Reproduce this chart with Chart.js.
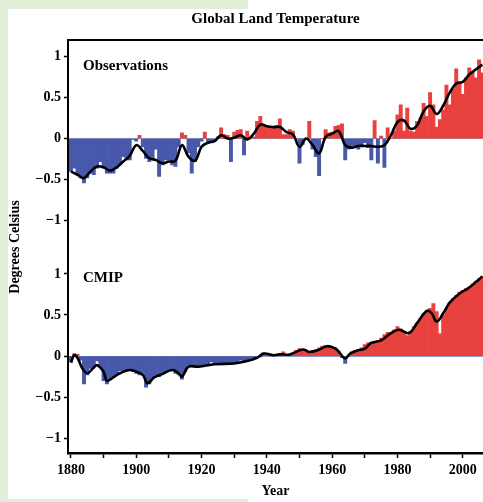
<!DOCTYPE html>
<html>
<head>
<meta charset="utf-8">
<script src="https://cdn.jsdelivr.net/npm/chart.js@4.4.1/dist/chart.umd.min.js"></script>
<style>
  body { margin: 0; background: #fff; }
  #wrap { position: relative; width: 483px; height: 502px; overflow: hidden; background: #fff; }
  .frame { position: absolute; background: #e2efd8; }
  .lbl { position: absolute; font-family: 'Liberation Serif', serif; font-weight: bold; color: #000; line-height: 1; white-space: nowrap; }
  canvas { position: absolute; left: 0; top: 0; }
</style>
</head>
<body>
<div id="wrap">
  <div class="frame" style="left:0;top:0;width:8px;height:502px"></div>
  <div class="frame" style="left:0;top:0;width:248px;height:9px"></div>
  <div class="frame" style="left:0;top:499px;width:248px;height:3px"></div>
  <canvas id="chart" width="483" height="502"></canvas>
  <div class="lbl" style="left:83px;top:58px;font-size:15px">Observations</div>
  <div class="lbl" style="left:83px;top:270px;font-size:15px">CMIP</div>
  <div class="lbl" style="left:-45px;top:240px;width:120px;text-align:center;font-size:14px;transform:rotate(-90deg)">Degrees Celsius</div>
</div>
<script>
// years on the x axis, one bar per year
const years = Array.from({ length: 127 }, (_, i) => 1880 + i);

// annual anomalies, observations (1880-2006)
const obsValues = [
  -0.40, -0.36, -0.44, -0.48, -0.54, -0.48, -0.42, -0.44, -0.36, -0.28,
  -0.36, -0.42, -0.42, -0.42, -0.36, -0.32, -0.22, -0.26, -0.26, -0.01,
  -0.03, 0.04, -0.10, -0.24, -0.28, -0.24, -0.13, -0.46, -0.32, -0.26,
  -0.26, -0.32, -0.34, -0.10, 0.07, 0.04, -0.17, -0.42, -0.28, -0.10,
  -0.03, 0.08, -0.06, -0.05, -0.03, 0.02, 0.13, 0.05, 0.04, -0.28,
  0.08, 0.10, 0.11, -0.20, 0.09, 0.00, 0.02, 0.21, 0.27, 0.17,
  0.14, 0.15, 0.15, 0.16, 0.24, 0.05, 0.05, 0.11, 0.09, 0.00,
  -0.30, -0.07, 0.00, 0.21, -0.13, -0.22, -0.45, 0.00, 0.11, 0.07,
  0.08, 0.15, 0.16, 0.18, -0.26, -0.13, -0.09, -0.09, -0.13, -0.09,
  -0.05, -0.11, -0.26, 0.22, -0.30, 0.03, -0.35, 0.13, 0.00, 0.09,
  0.29, 0.41, 0.09, 0.37, 0.09, 0.08, 0.21, 0.25, 0.43, 0.27,
  0.56, 0.41, 0.14, 0.23, 0.35, 0.65, 0.41, 0.60, 0.85, 0.68,
  0.54, 0.74, 0.86, 0.81, 0.74, 0.96, 0.80
];

// annual anomalies, CMIP ensemble (1880-2006)
const cmipValues = [
  -0.07, 0.03, 0.02, -0.05, -0.34, -0.23, -0.15, -0.13, -0.06, -0.13,
  -0.30, -0.34, -0.28, -0.26, -0.23, -0.18, -0.19, -0.17, -0.17, -0.19,
  -0.21, -0.23, -0.21, -0.38, -0.34, -0.26, -0.23, -0.25, -0.21, -0.19,
  -0.17, -0.17, -0.21, -0.23, -0.28, -0.19, -0.11, -0.13, -0.13, -0.12,
  -0.12, -0.11, -0.11, -0.07, -0.10, -0.10, -0.09, -0.09, -0.09, -0.08,
  -0.08, -0.07, -0.05, -0.06, -0.05, -0.03, -0.02, -0.01, -0.01, 0.04,
  0.03, 0.02, 0.01, 0.02, 0.03, 0.05, 0.02, 0.02, 0.04, 0.07,
  0.09, 0.07, 0.05, 0.05, 0.07, 0.08, 0.10, 0.12, 0.13, 0.12,
  0.10, 0.10, 0.06, -0.02, -0.09, 0.00, 0.05, 0.07, 0.08, 0.10,
  0.14, 0.16, 0.17, 0.18, 0.19, 0.22, 0.26, 0.29, 0.28, 0.32,
  0.36, 0.33, 0.30, 0.25, 0.30, 0.36, 0.40, 0.45, 0.52, 0.55,
  0.58, 0.64, 0.54, 0.27, 0.50, 0.58, 0.65, 0.70, 0.74, 0.78,
  0.80, 0.82, 0.84, 0.88, 0.91, 0.94, 0.97
];

// smoothed curves
const obsLineYears = [1880, 1882, 1884, 1886, 1888, 1890, 1892, 1894, 1896, 1898,
  1900, 1902, 1904, 1906, 1908, 1910, 1912, 1914, 1916, 1918,
  1920, 1922, 1924, 1926, 1928, 1930, 1932, 1934, 1936, 1938,
  1940, 1942, 1944, 1946, 1948, 1950, 1952, 1954, 1956, 1958,
  1960, 1962, 1964, 1966, 1968, 1970, 1972, 1974, 1976, 1978,
  1980, 1982, 1984, 1986, 1988, 1990, 1992, 1994, 1996, 1998,
  2000, 2002, 2004, 2006];
const obsLineValues = [-0.40, -0.44, -0.48, -0.40, -0.34, -0.35, -0.39, -0.35, -0.28, -0.21,
  -0.08, -0.15, -0.24, -0.26, -0.30, -0.28, -0.27, -0.08, -0.22, -0.27,
  -0.10, -0.05, -0.03, 0.04, 0.00, 0.01, 0.04, -0.01, 0.06, 0.17,
  0.15, 0.14, 0.14, 0.08, 0.05, -0.10, 0.00, -0.08, -0.18, 0.02,
  0.06, 0.09, -0.08, -0.11, -0.09, -0.09, -0.09, -0.10, -0.08, 0.04,
  0.20, 0.22, 0.12, 0.16, 0.33, 0.40, 0.30, 0.40, 0.56, 0.67,
  0.69, 0.78, 0.84, 0.90];

const cmipLineYears = [1880, 1881, 1882, 1883.5, 1885, 1887, 1888, 1890, 1891, 1893,
  1895, 1898, 1900, 1902, 1903.5, 1905.5, 1908, 1911, 1913, 1914,
  1916, 1919, 1924, 1930, 1934, 1937, 1939, 1942, 1944, 1947,
  1951, 1953, 1955.5, 1958.5, 1961, 1962.5, 1964, 1965.5, 1968, 1970,
  1972, 1975, 1978, 1980.5, 1983.5, 1986, 1989, 1990.5, 1992, 1994,
  1996, 1999, 2001.5, 2004, 2006];
const cmipLineValues = [-0.08, 0.01, -0.02, -0.15, -0.21, -0.14, -0.11, -0.19, -0.30, -0.26,
  -0.21, -0.17, -0.19, -0.23, -0.33, -0.26, -0.22, -0.17, -0.21, -0.25,
  -0.13, -0.13, -0.10, -0.09, -0.06, -0.02, 0.03, 0.01, 0.02, 0.02,
  0.08, 0.05, 0.07, 0.12, 0.09, 0.03, -0.03, 0.03, 0.07, 0.09,
  0.16, 0.19, 0.28, 0.32, 0.28, 0.40, 0.55, 0.52, 0.42, 0.52,
  0.65, 0.76, 0.82, 0.90, 0.97];

const yTicks = [-1, -0.5, 0, 0.5, 1];
const xTicks = [1880, 1890, 1900, 1910, 1920, 1930, 1940, 1950, 1960, 1970, 1980, 1990, 2000];

const RED = '#e8413e';
const BLUE = '#4858aa';
const FONT = 'Liberation Serif';

function barColor(ctx) {
  return ctx.parsed && ctx.parsed.y < 0 ? BLUE : RED;
}

function yAxis(min, max) {
  return {
    type: 'linear',
    position: 'left',
    stack: 'panels',
    stackWeight: max - min,
    min: min,
    max: max,
    afterBuildTicks: s => { s.ticks = yTicks.map(v => ({ value: v })); },
    afterFit: s => { s.width = 68; },
    ticks: {
      color: '#000',
      padding: 3,
      font: { family: FONT, size: 14, weight: 'bold' },
      callback: v => String(v).replace('-', '\u2212')
    },
    grid: {
      color: c => (c.tick && c.tick.value === 0 ? '#8e9bc4' : 'rgba(0,0,0,0)'),
      lineWidth: 1,
      tickColor: '#000',
      tickLength: 4,
      tickWidth: 1.5
    },
    border: { color: '#000', width: 2 }
  };
}

new Chart(document.getElementById('chart'), {
  type: 'bar',
  data: {
    datasets: [
      {
        type: 'line',
        data: obsLineYears.map((y, i) => ({ x: y, y: obsLineValues[i] })),
        yAxisID: 'y1',
        borderColor: '#000',
        borderWidth: 2.6,
        pointRadius: 0,
        tension: 0.4,
        order: 0
      },
      {
        type: 'line',
        data: cmipLineYears.map((y, i) => ({ x: y, y: cmipLineValues[i] })),
        yAxisID: 'y2',
        borderColor: '#000',
        borderWidth: 2.6,
        pointRadius: 0,
        tension: 0.4,
        order: 0
      },
      {
        data: years.map((y, i) => ({ x: y, y: obsValues[i] })),
        yAxisID: 'y1',
        backgroundColor: barColor,
        borderWidth: 0,
        barPercentage: 1,
        categoryPercentage: 1,
        grouped: false,
        order: 1
      },
      {
        data: years.map((y, i) => ({ x: y, y: cmipValues[i] })),
        yAxisID: 'y2',
        backgroundColor: barColor,
        borderWidth: 0,
        barPercentage: 1,
        categoryPercentage: 1,
        grouped: false,
        order: 1
      }
    ]
  },
  options: {
    responsive: false,
    animation: false,
    layout: { padding: 0 },
    plugins: {
      legend: { display: false },
      tooltip: { enabled: false },
      title: {
        display: true,
        text: 'Global Land Temperature',
        fullSize: false,
        color: '#000',
        font: { family: FONT, size: 15, weight: 'bold' },
        padding: { top: 10, bottom: 12 }
      }
    },
    scales: {
      x: {
        type: 'linear',
        position: 'bottom',
        min: 1879.1,
        max: 2006.2,
        offset: false,
        afterBuildTicks: s => { s.ticks = xTicks.map(v => ({ value: v })); },
        afterFit: s => { s.height = 49; },
        ticks: {
          color: '#000',
          padding: 4,
          maxRotation: 0,
          autoSkip: false,
          font: { family: FONT, size: 14, weight: 'bold' },
          callback: v => (v % 20 === 0 ? String(v) : '')
        },
        grid: {
          offset: false,
          drawOnChartArea: false,
          tickColor: '#000',
          tickLength: 5,
          tickWidth: 1.5
        },
        border: { color: '#000', width: 2.5 },
        title: {
          display: true,
          text: 'Year',
          color: '#000',
          font: { family: FONT, size: 14, weight: 'bold' },
          padding: { top: 0, bottom: 2 }
        }
      },
      xTop: {
        type: 'linear',
        position: 'top',
        min: 1879.1,
        max: 2006.2,
        afterFit: s => { s.height = 0; },
        ticks: { display: false },
        grid: { display: false },
        border: { color: '#000', width: 2 }
      },
      // the lower panel is listed first: stacked left axes are laid out bottom-up here
      y2: yAxis(-1.18, 1.33),
      y1: yAxis(-1.317, 1.2)
    }
  }
});
</script>
</body>
</html>
